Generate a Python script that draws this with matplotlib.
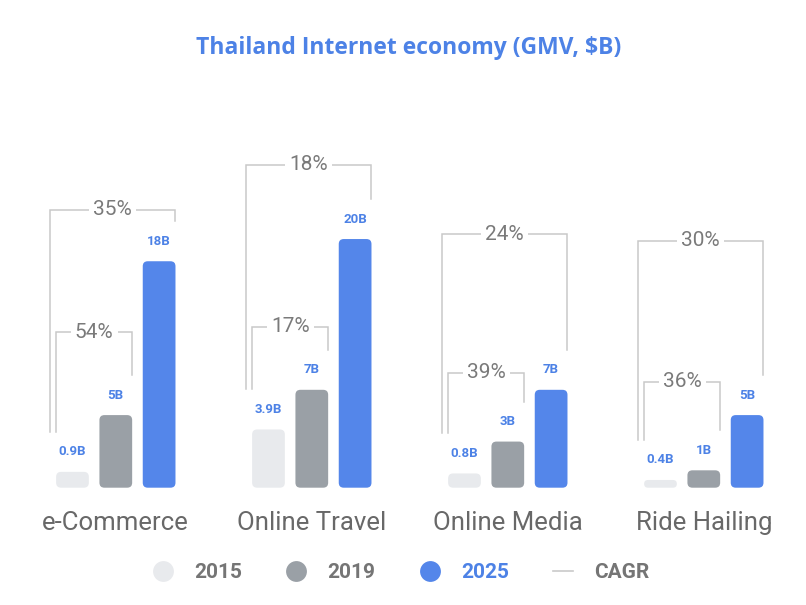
import matplotlib
matplotlib.use("Agg")
import matplotlib.pyplot as plt
import numpy as np
import matplotlib.transforms as mtransforms
from matplotlib.patches import FancyBboxPatch
from matplotlib.lines import Line2D

plt.rcParams['font.family'] = ['Roboto', 'DejaVu Sans']

# ---------------- data ----------------
categories = ['e-Commerce', 'Online Travel', 'Online Media', 'Ride Hailing']
years = ['2015', '2019', '2025']
gmv_2015 = [0.9, 3.9, 0.8, 0.4]
gmv_2019 = [5, 7, 3, 1]
gmv_2025 = [18, 20, 7, 5]
cagr_2015_2019 = ['54%', '17%', '39%', '36%']
cagr_2015_2025 = ['35%', '18%', '24%', '30%']
title = 'Thailand Internet economy (GMV, $B)'

# ---------------- style ----------------
C2015 = '#e8eaed'
C2019 = '#9aa0a6'
C2025 = '#5486ea'
BLUE_TXT = '#4d82e6'
LINE_C = '#c9c9c9'
PCT_C = '#7a7a7a'
CAT_C = '#686868'
LEG_C = '#757575'

W, H = 806, 605
DPI = 100
P = 0.888                 # power of the value axis scale
PX_PER_UNIT = 17.39       # pixel height of 1 unit^P

fig = plt.figure(figsize=(W / DPI, H / DPI), dpi=DPI)
base_px = H - 487.7
top_px = H - 50
ax = fig.add_axes([17.8 / W, base_px / H, 784 / W, (top_px - base_px) / H])
ax.set_xlim(-0.5, 3.5)
fwd = lambda v: np.sign(v) * np.abs(v) ** P
inv = lambda h: np.sign(h) * np.abs(h) ** (1 / P)
ax.set_yscale('function', functions=(fwd, inv))
ax.set_ylim(0, ((top_px - base_px) / PX_PER_UNIT) ** (1 / P))
for s in ax.spines.values():
    s.set_visible(False)
ax.set_yticks([])

x = np.arange(len(categories))
off = 0.221
bw = 0.167
series = [gmv_2015, gmv_2019, gmv_2025]
colors = [C2015, C2019, C2025]

all_bars = []
for j, (vals, col) in enumerate(zip(series, colors)):
    bars = ax.bar(x + (j - 1) * off, vals, width=bw, color=col)
    all_bars.append(bars)
    for xi, v in zip(x + (j - 1) * off, vals):
        ax.annotate(f"{v:g}B", (xi, v), xytext=(0, 20 * 72 / DPI),
                    textcoords='offset points', ha='center', va='center',
                    fontsize=9.5, fontweight='bold', color=BLUE_TXT)

# rounded bars
R = 5
for bars in all_bars:
    for rect in bars:
        bb = rect.get_window_extent()
        rr = min(R, bb.height / 2, bb.width / 2)
        p = FancyBboxPatch((bb.x0 + rr, bb.y0 + rr), bb.width - 2 * rr, bb.height - 2 * rr,
                           boxstyle=f"round,pad={rr},rounding_size={rr}",
                           transform=mtransforms.IdentityTransform(),
                           facecolor=rect.get_facecolor(), edgecolor='none', clip_on=False)
        fig.add_artist(p)
        rect.set_visible(False)

# category labels
ax.set_xticks(x)
ax.set_xticklabels(categories, fontsize=18.5, color=CAT_C)
ax.tick_params(axis='x', length=0, pad=16.5)

# CAGR brackets
outer_top_px = [277.7, 322.7, 253.7, 247.0]
inner_top_px = [155.7, 160.7, 114.7, 106.0]
GAP = 40
invT = ax.transData.inverted()
base_disp = ax.transData.transform((0, 0))[1]
ppx = ax.transData.transform((1, 0))[0] - ax.transData.transform((0, 0))[0]


def dy(v):
    return ax.transData.transform((0, v))[1]


def to_data(ydisp):
    return invT.transform((0, ydisp))[1]


for i in range(len(categories)):
    xl_in = x[i] - off - bw / 2
    xl_out = xl_in - 6 / ppx
    xr_in = x[i] + bw / 2
    xr_out = x[i] + off + bw / 2
    y_left = to_data(dy(gmv_2015[i]) + GAP)
    y_r_in = to_data(dy(gmv_2019[i]) + GAP)
    y_r_out = to_data(dy(gmv_2025[i]) + GAP)
    y_top_in = to_data(base_disp + inner_top_px[i])
    y_top_out = to_data(base_disp + outer_top_px[i])
    ax.plot([xl_out, xl_out, xr_out, xr_out], [y_left, y_top_out, y_top_out, y_r_out],
            color=LINE_C, lw=1.1, solid_joinstyle='miter')
    ax.plot([xl_in, xl_in, xr_in, xr_in], [y_left, y_top_in, y_top_in, y_r_in],
            color=LINE_C, lw=1.1, solid_joinstyle='miter')
    ax.text((xl_out + xr_out) / 2, y_top_out, cagr_2015_2025[i], ha='center', va='center',
            fontsize=15, color=PCT_C, bbox=dict(fc='white', ec='none', pad=3))
    ax.text((xl_in + xr_in) / 2, y_top_in, cagr_2015_2019[i], ha='center', va='center',
            fontsize=15, color=PCT_C, bbox=dict(fc='white', ec='none', pad=3))

# title
fig.text(409 / W, 1 - 47.7 / H, title, ha='center', va='center', fontsize=16.5,
         fontweight='bold', color=BLUE_TXT, family=['Open Sans', 'DejaVu Sans'])

# legend
handles = [Line2D([], [], marker='o', ls='', markersize=15, markerfacecolor=c,
                  markeredgecolor='none') for c in colors]
handles.append(Line2D([], [], color=LINE_C, lw=1.2))
leg = fig.legend(handles, years + ['CAGR'], loc='center', bbox_to_anchor=(401 / W, 1 - 573 / H),
                 ncol=4, frameon=False, handlelength=1.0, handletextpad=1.0,
                 columnspacing=2.1, prop={'size': 15, 'weight': 'semibold'})
for t, c in zip(leg.get_texts(), [LEG_C, LEG_C, BLUE_TXT, LEG_C]):
    t.set_color(c)

fig.savefig('out.png', dpi=DPI, facecolor='white')
